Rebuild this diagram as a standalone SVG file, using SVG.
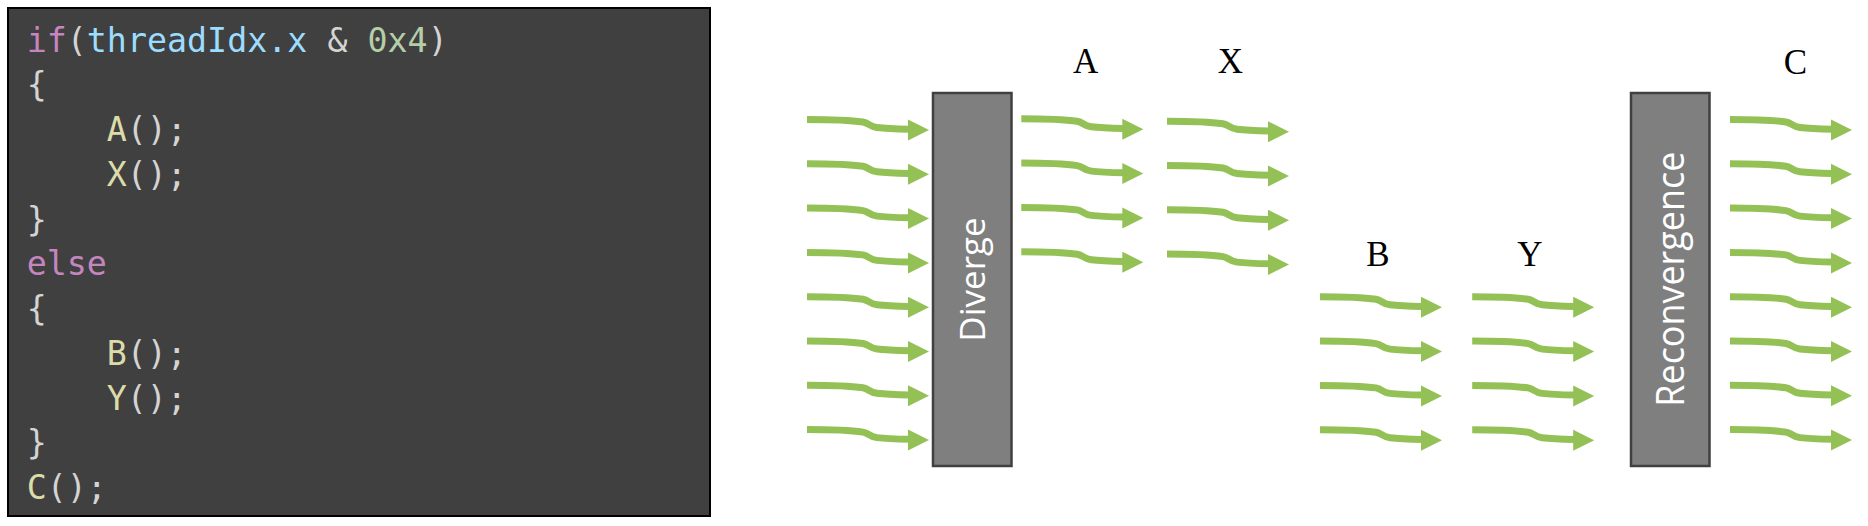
<svg xmlns="http://www.w3.org/2000/svg" xmlns:xlink="http://www.w3.org/1999/xlink" width="1868" height="526" viewBox="0 0 1868 526">
<style>
.code{font-family:"DejaVu Sans Mono","Liberation Mono",monospace;font-size:33.3px;fill:#D4D4D4}
.kw{fill:#C586C0}
.var{fill:#9CDCFE}
.num{fill:#B5CEA8}
.fn{fill:#DCDCAA}
.lbl{font-family:"Liberation Serif","Times New Roman",serif;font-size:35px;fill:#000;text-anchor:middle}
.box{fill:#7F7F7F;stroke:#404040;stroke-width:2.5}
.boxtxt{font-family:"Open Sans",sans-serif;font-size:35px;fill:#fff;text-anchor:middle}
.shaft{fill:none;stroke:#94C155;stroke-width:7}
.head{fill:#94C155}
</style>
<defs>
<g id="arr">
<path class="shaft" d="M-122,-10.5 C-100,-10.5 -80,-10 -66,-8 C-60,-7 -60,-3.5 -52,-2.5 C-42,-1.2 -30,-1 -19,-0.8"/>
<polygon class="head" points="-21,-10.5 0,0 -21,10.5"/>
</g>
</defs>
<rect width="1868" height="526" fill="#fff"/>
<g id="code">
<rect x="8" y="8" width="702" height="508" fill="#404040" stroke="#000" stroke-width="2"/>
<text class="code" x="26.7" y="51.5"><tspan class="kw">if</tspan>(<tspan class="var">threadIdx.x</tspan> &amp; <tspan class="num">0x4</tspan>)</text>
<text class="code" x="26.7" y="96.2">{</text>
<text class="code" x="106.7" y="141"><tspan class="fn">A</tspan>();</text>
<text class="code" x="106.7" y="185.7"><tspan class="fn">X</tspan>();</text>
<text class="code" x="26.7" y="230.5">}</text>
<text class="code" x="26.7" y="275.2"><tspan class="kw">else</tspan></text>
<text class="code" x="26.7" y="320">{</text>
<text class="code" x="106.7" y="364.7"><tspan class="fn">B</tspan>();</text>
<text class="code" x="106.7" y="409.5"><tspan class="fn">Y</tspan>();</text>
<text class="code" x="26.7" y="454.2">}</text>
<text class="code" x="26.7" y="499"><tspan class="fn">C</tspan>();</text>
</g>
<g id="diverge">
<rect class="box" x="933" y="93" width="78.5" height="373"/>
<text class="boxtxt" transform="translate(984.5,279.5) rotate(-90)">Diverge</text>
</g>
<g id="reconvergence">
<rect class="box" x="1631" y="93" width="78.5" height="373"/>
<text class="boxtxt" style="font-size:38.5px" transform="translate(1684,279.2) rotate(-90)" textLength="255" lengthAdjust="spacingAndGlyphs">Reconvergence</text>
</g>
<g id="labels">
<text class="lbl" x="1085.7" y="73.3">A</text>
<text class="lbl" x="1230.5" y="73.3">X</text>
<text class="lbl" x="1378" y="266">B</text>
<text class="lbl" x="1530" y="266">Y</text>
<text class="lbl" x="1795.5" y="74">C</text>
</g>
<g id="connectors">
<use xlink:href="#arr" href="#arr" x="929" y="130"/>
<use xlink:href="#arr" href="#arr" x="929" y="174.3"/>
<use xlink:href="#arr" href="#arr" x="929" y="218.6"/>
<use xlink:href="#arr" href="#arr" x="929" y="262.9"/>
<use xlink:href="#arr" href="#arr" x="929" y="307.2"/>
<use xlink:href="#arr" href="#arr" x="929" y="351.5"/>
<use xlink:href="#arr" href="#arr" x="929" y="395.8"/>
<use xlink:href="#arr" href="#arr" x="929" y="440.1"/>
<use xlink:href="#arr" href="#arr" x="1143.3" y="129.3"/>
<use xlink:href="#arr" href="#arr" x="1143.3" y="173.6"/>
<use xlink:href="#arr" href="#arr" x="1143.3" y="217.9"/>
<use xlink:href="#arr" href="#arr" x="1143.3" y="262.2"/>
<use xlink:href="#arr" href="#arr" x="1289" y="131.7"/>
<use xlink:href="#arr" href="#arr" x="1289" y="176"/>
<use xlink:href="#arr" href="#arr" x="1289" y="220.3"/>
<use xlink:href="#arr" href="#arr" x="1289" y="264.6"/>
<use xlink:href="#arr" href="#arr" x="1442" y="307.3"/>
<use xlink:href="#arr" href="#arr" x="1442" y="351.6"/>
<use xlink:href="#arr" href="#arr" x="1442" y="395.9"/>
<use xlink:href="#arr" href="#arr" x="1442" y="440.2"/>
<use xlink:href="#arr" href="#arr" x="1594.2" y="307.3"/>
<use xlink:href="#arr" href="#arr" x="1594.2" y="351.6"/>
<use xlink:href="#arr" href="#arr" x="1594.2" y="395.9"/>
<use xlink:href="#arr" href="#arr" x="1594.2" y="440.2"/>
<use xlink:href="#arr" href="#arr" x="1852" y="130"/>
<use xlink:href="#arr" href="#arr" x="1852" y="174.3"/>
<use xlink:href="#arr" href="#arr" x="1852" y="218.6"/>
<use xlink:href="#arr" href="#arr" x="1852" y="262.9"/>
<use xlink:href="#arr" href="#arr" x="1852" y="307.2"/>
<use xlink:href="#arr" href="#arr" x="1852" y="351.5"/>
<use xlink:href="#arr" href="#arr" x="1852" y="395.8"/>
<use xlink:href="#arr" href="#arr" x="1852" y="440.1"/>
</g>
</svg>
